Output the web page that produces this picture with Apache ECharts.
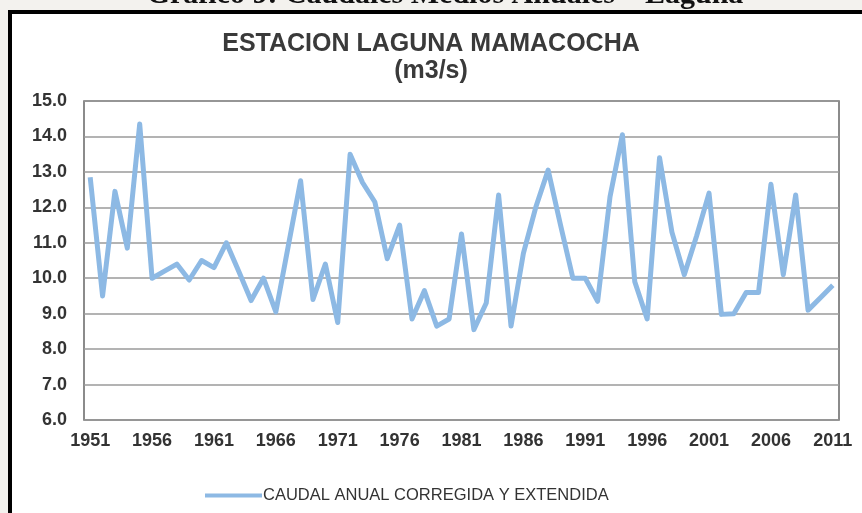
<!DOCTYPE html>
<html>
<head>
<meta charset="utf-8">
<script src="https://cdn.jsdelivr.net/npm/echarts@6/dist/echarts.min.js"></script>
<style>
  html, body { margin: 0; padding: 0; background: #f3f2ee; }
  #chart { width: 862px; height: 513px; }
</style>
</head>
<body>
<div id="chart"></div>
<script>
// años 1951 - 2011
const years = []
for (let y = 1951; y <= 2011; y++) years.push(String(y))

// caudal medio anual (m3/s)
const caudal = [
  12.85, 9.5, 12.45, 10.85, 14.35, 10.0, 10.2, 10.4, 9.95, 10.5,
  10.3, 11.0, 10.2, 9.37, 10.0, 9.05, 10.9, 12.75, 9.4, 10.4,
  8.75, 13.5, 12.7, 12.15, 10.55, 11.5, 8.85, 9.65, 8.65, 8.85,
  11.25, 8.55, 9.3, 12.35, 8.65, 10.7, 12.0, 13.05, 11.5, 10.0,
  10.0, 9.35, 12.3, 14.05, 9.9, 8.85, 13.4, 11.3, 10.1, 11.2,
  12.4, 8.98, 9.0, 9.6, 9.6, 12.65, 10.1, 12.35, 9.1, 9.45,
  9.8
]

const yTicks = { min: 6, max: 15, step: 1 }

const myChart = echarts.init(document.getElementById('chart'))
const option = {
  backgroundColor: '#f3f2ee',
  animation: false,
  textStyle: { fontFamily: 'Liberation Sans, Arial, sans-serif' },
  graphic: [
    {
      type: 'rect',
      shape: { x: 10, y: 12, width: 900, height: 560 },
      style: { fill: '#ffffff', stroke: '#000000', lineWidth: 4 },
      z: -10
    },
    {
      type: 'text',
      x: 445,
      y: 10,
      style: {
        text: 'Gráfico 9: Caudales Medios Anuales – Laguna',
        font: 'bold 30px "Liberation Serif", "Times New Roman", serif',
        fill: '#111',
        textAlign: 'center',
        textVerticalAlign: 'bottom'
      }
    }
  ],
  title: {
    text: 'ESTACION LAGUNA MAMACOCHA\n(m3/s)',
    left: 'center',
    top: 26,
    textStyle: {
      fontSize: 25,
      fontWeight: 'bold',
      color: '#3a3a3a',
      lineHeight: 27,
      fontFamily: 'Liberation Sans, Arial, sans-serif'
    }
  },
  legend: {
    data: ['CAUDAL ANUAL CORREGIDA Y EXTENDIDA'],
    left: 200,
    top: 482,
    icon: 'rect',
    itemWidth: 57,
    itemHeight: 4,
    itemGap: 2,
    textStyle: { fontSize: 16.5, color: '#333', padding: [0, 0, 0, -4] }
  },
  grid: {
    left: 84,
    right: 23,
    top: 101,
    bottom: 93,
    show: true,
    borderColor: '#666',
    borderWidth: 1.5,
    backgroundColor: 'transparent'
  },
  xAxis: {
    type: 'category',
    data: years,
    boundaryGap: true,
    axisLine: { show: false },
    axisTick: { show: false },
    axisLabel: {
      interval: 4,
      fontSize: 18,
      fontWeight: 'bold',
      color: '#333',
      margin: 12
    },
    splitLine: { show: false }
  },
  yAxis: {
    type: 'value',
    min: yTicks.min,
    max: yTicks.max,
    interval: yTicks.step,
    axisLine: { show: false },
    axisTick: { show: false },
    axisLabel: {
      fontSize: 18,
      fontWeight: 'bold',
      color: '#333',
      margin: 17,
      formatter: (v) => v.toFixed(1)
    },
    splitLine: { show: true, lineStyle: { color: '#9a9a9a', width: 1.5 } }
  },
  series: [
    {
      name: 'CAUDAL ANUAL CORREGIDA Y EXTENDIDA',
      type: 'line',
      data: caudal,
      symbol: 'none',
      itemStyle: { color: '#8db9e4' },
      lineStyle: { width: 5, color: '#8db9e4', join: 'round' }
    }
  ]
}
myChart.setOption(option)
</script>
</body>
</html>
